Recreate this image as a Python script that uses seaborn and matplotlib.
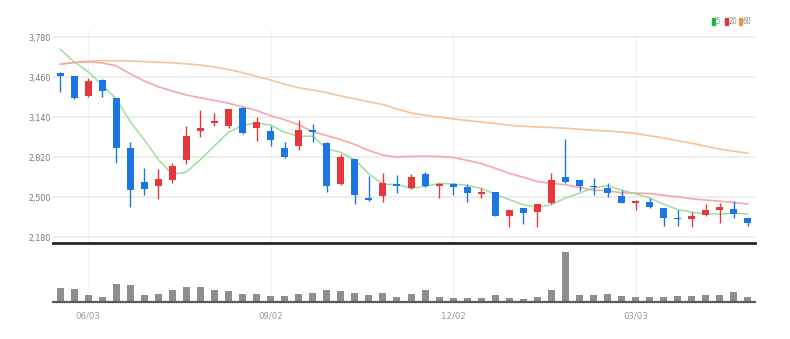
import numpy as np
import pandas as pd
import matplotlib
matplotlib.use("Agg")
import matplotlib.pyplot as plt
from matplotlib.patches import Rectangle
import seaborn as sns

# Weekly candles, 2024-05-20 .. 2025-04-28
dates = pd.date_range("2024-05-20", periods=50, freq="7D")

opens = [3494, 3470, 3310, 3436, 3290, 2890, 2618, 2590, 2636, 2796,
         3030, 3092, 3070, 3212, 3054, 3028, 2890, 2910, 3036, 2934,
         2604, 2802, 2490, 2510, 2604, 2574, 2682, 2590, 2604, 2578,
         2524, 2538, 2350, 2414, 2382, 2450, 2662, 2636, 2590, 2574,
         2510, 2454, 2458, 2410, 2334, 2324, 2356, 2396, 2404, 2330]
highs = [3500, 3470, 3450, 3444, 3290, 2942, 2730, 2722, 2770, 3068,
         3196, 3174, 3204, 3222, 3142, 3070, 2938, 3116, 3084, 2940,
         2844, 2802, 2670, 2690, 2676, 2682, 2702, 2610, 2610, 2604,
         2574, 2540, 2394, 2416, 2442, 2690, 2962, 2640, 2650, 2614,
         2556, 2474, 2494, 2412, 2396, 2382, 2444, 2450, 2470, 2334]
lows = [3342, 3284, 3302, 3302, 2774, 2422, 2516, 2482, 2614, 2762,
        2982, 3068, 3056, 3002, 2950, 2908, 2810, 2876, 2938, 2542,
        2596, 2444, 2470, 2462, 2530, 2566, 2582, 2490, 2516, 2462,
        2494, 2348, 2262, 2282, 2262, 2444, 2610, 2548, 2516, 2502,
        2450, 2396, 2414, 2268, 2270, 2258, 2350, 2294, 2330, 2268]
closes = [3470, 3292, 3430, 3348, 2890, 2556, 2564, 2644, 2748, 2988,
          3052, 3106, 3202, 3010, 3102, 2956, 2822, 3036, 3022, 2588,
          2818, 2516, 2476, 2610, 2586, 2660, 2590, 2602, 2582, 2530,
          2542, 2350, 2394, 2370, 2442, 2636, 2618, 2588, 2580, 2534,
          2454, 2470, 2422, 2330, 2322, 2350, 2394, 2422, 2362, 2294]
volumes = [268, 254, 134, 100, 354, 328, 134, 148, 234, 300,
           288, 234, 214, 148, 148, 114, 114, 148, 174, 240,
           208, 180, 134, 180, 100, 148, 228, 100, 68, 68,
           74, 134, 74, 54, 88, 234, 1000, 134, 134, 148,
           114, 88, 100, 100, 114, 114, 134, 134, 200, 100]

# Moving-average values for the first weeks (they depend on earlier history)
ma5_lead = [3684, 3582, 3502, 3396]
ma20_lead = [3562, 3575, 3582, 3572, 3550, 3485, 3428, 3382, 3348, 3316,
             3294, 3272, 3250, 3222, 3192, 3150, 3118, 3078, 3022]
ma60 = [3562, 3578, 3586, 3590, 3590, 3588, 3584, 3578, 3574, 3565,
        3555, 3540, 3520, 3495, 3465, 3436, 3402, 3374, 3356, 3335,
        3308, 3285, 3262, 3240, 3205, 3172, 3155, 3138, 3125, 3112,
        3100, 3088, 3074, 3066, 3060, 3056, 3050, 3042, 3034, 3028,
        3020, 3008, 2990, 2972, 2950, 2930, 2906, 2882, 2866, 2850]

price_ticks = [2180, 2500, 2820, 3140, 3460, 3780]
date_ticks = ["06/03", "09/02", "12/02", "03/03"]
ma_labels = ["5", "20", "60"]

df = pd.DataFrame({"open": opens, "high": highs, "low": lows,
                   "close": closes, "volume": volumes}, index=dates)
df["i"] = np.arange(len(df))
ma5 = df["close"].rolling(5).mean().to_numpy()
ma5[:4] = ma5_lead
ma20 = df["close"].rolling(20).mean().to_numpy()
ma20[:19] = ma20_lead
df["ma5"], df["ma20"], df["ma60"] = ma5, ma20, ma60

sns.set_style("white")
plt.rcParams["font.family"] = ["Liberation Sans Narrow", "DejaVu Sans"]
plt.rcParams["font.stretch"] = "condensed"

UP, DOWN = "#e8363d", "#1b76e4"
W, H = 790, 339
fig = plt.figure(figsize=(W / 100, H / 100), dpi=100)

def frac(x0, y0, x1, y1):
    return [x0 / W, 1 - y1 / H, (x1 - x0) / W, (y1 - y0) / H]

ax = fig.add_axes(frac(53, 30, 755, 243))
axv = fig.add_axes(frac(53, 247, 755, 301.7))

tick_idx = [df.index.get_loc(pd.Timestamp(d)) for d in
            ["2024-06-03", "2024-09-02", "2024-12-02", "2025-03-03"]]

# price panel grid
for p in price_ticks:
    ax.axhline(p, color="#ececec", lw=1.3, zorder=0)
for t in tick_idx:
    ax.axvline(t, color="#f1f1f1", lw=1.0, zorder=0)

# moving averages
sns.lineplot(data=df, x="i", y="ma60", ax=ax, color="#f8c396", lw=1.2, zorder=2)
sns.lineplot(data=df, x="i", y="ma20", ax=ax, color="#f4a8ab", lw=1.2, zorder=2)
sns.lineplot(data=df, x="i", y="ma5", ax=ax, color="#9ad995", lw=1.0, zorder=2)

# candles
colors = [UP if c >= o else DOWN for o, c in zip(df["open"], df["close"])]
ax.vlines(df["i"], df["low"], df["high"], colors=colors, lw=1.0, zorder=3)
body_lo = np.minimum(df["open"], df["close"])
body_h = np.maximum(np.abs(df["close"] - df["open"]), 9)
ax.bar(df["i"], body_h, bottom=body_lo, width=0.5, color=colors,
       linewidth=0, zorder=4)

ax.set_xlim(-0.5, 49.5)
ax.set_ylim(2132, 3836)
ax.set_yticks(price_ticks)
ax.set_yticklabels([f"{p:,}" for p in price_ticks])
ax.tick_params(axis="y", length=0, pad=1.5, labelsize=6.3, labelcolor="#777777")
ax.set_xticks([])
ax.set_xlabel("")
ax.set_ylabel("")
for s in ["top", "left", "right"]:
    ax.spines[s].set_visible(False)
ax.spines["bottom"].set_color("#262626")
ax.spines["bottom"].set_linewidth(2.0)

# volume panel
for t in tick_idx:
    axv.axvline(t, color="#f1f1f1", lw=1.0, zorder=0)
axv.bar(df["i"], df["volume"], width=0.5, color="#8e8e8e", linewidth=0,
        zorder=2)
axv.set_xlim(-0.5, 49.5)
axv.set_ylim(0, max(volumes) * 1.094)
axv.set_yticks([])
axv.set_xticks(tick_idx)
axv.set_xticklabels(date_ticks)
axv.tick_params(axis="x", length=3, width=1, color="#777777", pad=4,
                labelsize=6.8, labelcolor="#999999")
for s in ["top", "left", "right"]:
    axv.spines[s].set_visible(False)
axv.spines["bottom"].set_color("#5a5a5a")
axv.spines["bottom"].set_linewidth(1.6)

# moving-average key, top right
key = [(711.5, "#22b833", ma_labels[0]), (724.5, "#ee2e3a", ma_labels[1]),
       (738.5, "#f0923a", ma_labels[2])]
for x0, col, lab in key:
    fig.patches.append(Rectangle((x0 / W, 1 - 24.5 / H), 3.5 / W, 6.5 / H,
                                 transform=fig.transFigure, color=col))
    fig.text((x0 + 4.3) / W, 1 - 21.3 / H, lab, fontsize=5.5, color="#8a8a8a",
             va="center", ha="left")

fig.savefig("out.png", dpi=100)
